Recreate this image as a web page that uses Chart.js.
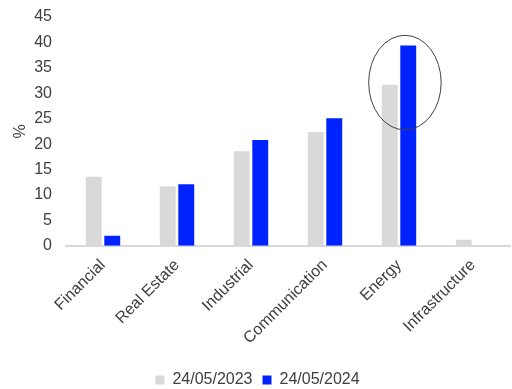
<!DOCTYPE html>
<html>
<head>
<meta charset="utf-8">
<script src="https://cdn.jsdelivr.net/npm/chart.js@4/dist/chart.umd.min.js"></script>
<style>
  html, body { margin: 0; padding: 0; background: #fff; }
  #wrap { width: 512px; height: 389px; }
</style>
</head>
<body>
<div id="wrap"><canvas id="chart"></canvas></div>
<script>
const categories = ['Financial', 'Real Estate', 'Industrial', 'Communication', 'Energy', 'Infrastructure'];
const seriesNames = ['24/05/2023', '24/05/2024'];
const values2023 = [13.6, 11.7, 18.6, 22.4, 31.7, 1.2];
const values2024 = [2.0, 12.1, 20.8, 25.1, 39.4, 0];
const yTicks = [0, 5, 10, 15, 20, 25, 30, 35, 40, 45];

// circle drawn round the Energy bars
const highlight = { index: 4, yLow: 22.8, yHigh: 41.4, halfWidth: 0.49, shift: 0.08 };

const ellipsePlugin = {
  id: 'ellipse',
  beforeLayout(chart) {
    // pull the legend a little closer to the bottom edge
    const legend = chart.legend;
    if (legend && !legend._patched) {
      const fit = legend.fit;
      legend.fit = function () { fit.call(this); this.height -= 9; };
      legend._patched = true;
    }
  },
  afterDatasetsDraw(chart) {
    const x = chart.scales.x;
    const y = chart.scales.y;
    const step = x.getPixelForValue(1) - x.getPixelForValue(0);
    const cx = x.getPixelForValue(highlight.index) + step * highlight.shift;
    const top = y.getPixelForValue(highlight.yHigh);
    const bottom = y.getPixelForValue(highlight.yLow);
    const ctx = chart.ctx;
    ctx.save();
    ctx.beginPath();
    ctx.ellipse(cx, (top + bottom) / 2, step * highlight.halfWidth, (bottom - top) / 2, 0, 0, Math.PI * 2);
    ctx.strokeStyle = '#404040';
    ctx.lineWidth = 1;
    ctx.stroke();
    ctx.restore();
  }
};

const font = { family: 'Liberation Sans, Arial, sans-serif', size: 16 };

const ctx = document.getElementById('chart').getContext('2d');
new Chart(ctx, {
  type: 'bar',
  data: {
    labels: categories,
    datasets: [
      { label: seriesNames[0], data: values2023, backgroundColor: '#d9d9d9' },
      { label: seriesNames[1], data: values2024, backgroundColor: '#0022ff' }
    ]
  },
  options: {
    responsive: true,
    maintainAspectRatio: false,
    animation: false,
    layout: { padding: { left: 5, right: 2, top: 17, bottom: 0 } },
    datasets: { bar: { categoryPercentage: 0.5, barPercentage: 0.86 } },
    scales: {
      x: {
        grid: { display: false },
        border: { display: true, color: '#d9d9d9', width: 2 },
        ticks: { font: font, color: '#404040', minRotation: 45, maxRotation: 45, padding: 2 },
        afterFit: axis => {
          axis.paddingLeft = 0;
          axis.paddingRight = 0;
          axis.height += 12;
        }
      },
      y: {
        min: 0,
        max: 45,
        afterBuildTicks: axis => { axis.ticks = yTicks.map(v => ({ value: v })); },
        grid: { display: false, drawTicks: false },
        border: { display: false },
        ticks: { font: font, color: '#404040', padding: 14 },
        title: { display: true, text: '%', font: font, color: '#404040', padding: { top: 6, bottom: 2 } },
        afterFit: axis => {
          axis.width = 61;
          axis.paddingTop = 0;
          axis.paddingBottom = 0;
        }
      }
    },
    plugins: {
      legend: {
        position: 'bottom',
        labels: { font: font, color: '#404040', boxWidth: 9, boxHeight: 9, padding: 10 }
      },
      tooltip: { enabled: false }
    }
  },
  plugins: [ellipsePlugin]
});
</script>
</body>
</html>
